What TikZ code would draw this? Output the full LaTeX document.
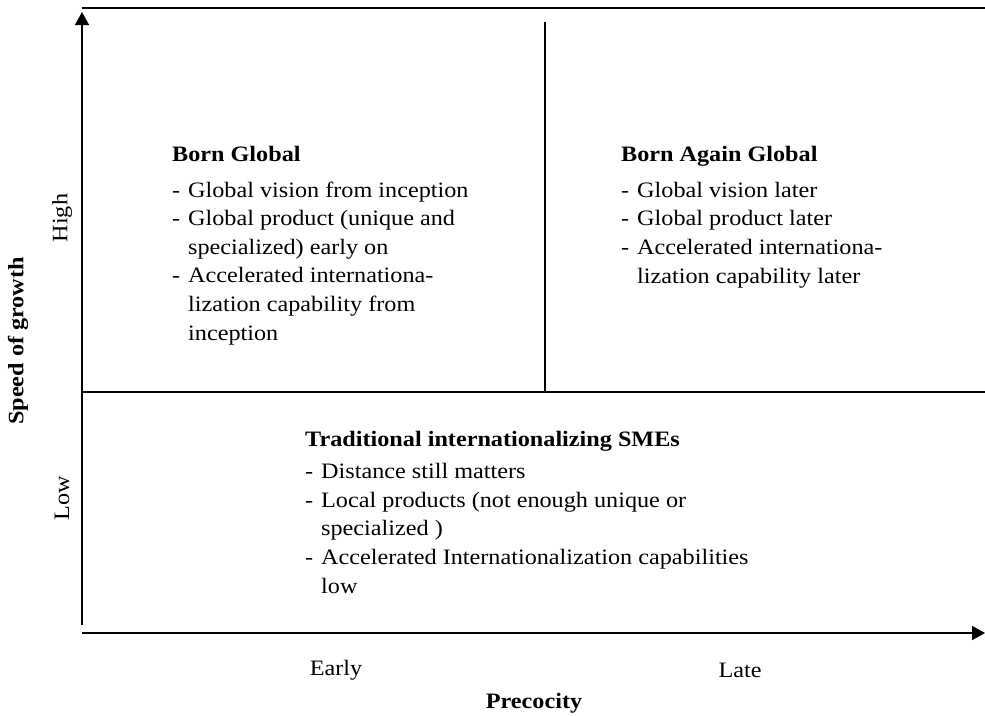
\documentclass[tikz,border=0pt]{standalone}
\usepackage{fontspec}
\setmainfont{Liberation Serif}[FakeStretch=1.1]
\usetikzlibrary{arrows.meta}
\newcommand\dashitem[1]{\makebox[16pt][l]{-}#1}
\newcommand\contline[1]{\hspace*{16pt}#1}
\tikzset{
  axisline/.style={line width=1.4pt},
  gridline/.style={line width=1.1pt},
  axisarrow/.style={axisline,-{Triangle[length=13pt,width=14pt]}},
  % anchored at the baseline of the last line
  block/.style={anchor=base west,align=left,inner sep=0pt,
    font=\fontsize{22}{28.6}\selectfont},
  ticklabel/.style={inner sep=0pt,font=\fontsize{22}{24}\selectfont},
  axistitle/.style={inner sep=0pt,font=\fontsize{22}{24}\selectfont\bfseries},
}
\begin{document}
\begin{tikzpicture}[x=1pt,y=-1pt]
\useasboundingbox (0,0) rectangle (985,715);
% axes
\coordinate (o) at (82,625);
\coordinate (ytop) at (82,12);
\coordinate (xo) at (82,633);
\coordinate (xend) at (985,633);
\draw[axisarrow] (o) -- (ytop);
\draw[axisarrow] (xo) -- (xend);
% frame and quadrant lines
\coordinate (tl) at (82,8);
\coordinate (tr) at (985,8);
\coordinate (ml) at (82,392);
\coordinate (mr) at (985,392);
\coordinate (vt) at (545,22);
\coordinate (vb) at (545,392);
\draw[line width=1.8pt] (tl) -- (tr);
\draw[gridline] (ml) -- (mr);
\draw[gridline] (vt) -- (vb);
% quadrant texts
\node[block] (bg) at (172,340) {\textbf{Born Global}\\[7.4pt]
  \dashitem{Global vision from inception}\\
  \dashitem{Global product (unique and}\\
  \contline{specialized) early on}\\
  \dashitem{Accelerated internationa-}\\
  \contline{lization capability from}\\
  \contline{inception}};
\node[block] (bag) at (621,283) {\textbf{Born Again Global}\\[7.4pt]
  \dashitem{Global vision later}\\
  \dashitem{Global product later}\\
  \dashitem{Accelerated internationa-}\\
  \contline{lization capability later}};
\node[block] (trad) at (305,593) {\textbf{Traditional internationalizing SMEs}\\[3.4pt]
  \dashitem{Distance still matters}\\
  \dashitem{Local products (not enough unique or}\\
  \contline{specialized )}\\
  \dashitem{Accelerated Internationalization capabilities}\\
  \contline{low}};
% axis labels
\node[ticklabel,rotate=90] (high) at (62,218) {High};
\node[ticklabel,rotate=90] (low) at (62,498) {Low};
\node[axistitle,rotate=90] (speed) at (18,341) {Speed of growth};
\node[ticklabel] (early) at (336,670) {Early};
\node[ticklabel] (late) at (740,670) {Late};
\node[axistitle] (prec) at (534,703) {Precocity};
\end{tikzpicture}
\end{document}
